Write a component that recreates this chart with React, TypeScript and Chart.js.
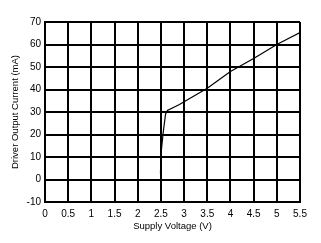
import React, { useEffect, useRef } from "react";
import { Chart, registerables } from "chart.js";

Chart.register(...registerables);

const supplyVoltage = [2.49, 2.51, 2.55, 2.6, 2.64, 2.9, 3.0, 3.5, 4.0, 4.5, 5.0, 5.5];
const outputCurrent = [2.7, 13, 21, 29, 30.7, 33.3, 34.6, 40.6, 48, 53.8, 60, 65.3];
const xTickValues = [0, 0.5, 1, 1.5, 2, 2.5, 3, 3.5, 4, 4.5, 5, 5.5];
const yTickValues = [-10, 0, 10, 20, 30, 40, 50, 60, 70];
const xTitle = "Supply Voltage (V)";
const yTitle = "Driver Output Current (mA)";

export default function App() {
  const ref = useRef<HTMLCanvasElement | null>(null);
  useEffect(() => {
    document.body.style.margin = "0";
    const canvas = ref.current;
    if (!canvas) return;
    const family = "'Liberation Sans', Arial, sans-serif";
    const font = { family, size: 10 };
    const titleFont = { family, size: 9.5 };
    const chart = new Chart(canvas, {
      type: "scatter",
      data: {
        datasets: [
          {
            data: supplyVoltage.map((x, i) => ({ x, y: outputCurrent[i] })),
            showLine: true,
            borderColor: "#000",
            borderWidth: 1.2,
            pointRadius: 0,
            tension: 0,
          },
        ],
      },
      options: {
        responsive: false,
        animation: false,
        events: [],
        layout: { padding: { left: 10, right: 21, top: 22, bottom: 11 } },
        plugins: { legend: { display: false }, tooltip: { enabled: false } },
        scales: {
          x: {
            type: "linear",
            min: 0,
            max: 5.5,
            afterBuildTicks: (s: any) => {
              s.ticks = xTickValues.map((v) => ({ value: v }));
            },
            afterFit: (s: any) => {
              s.height = 30;
            },
            grid: { color: "#000", lineWidth: 2, drawTicks: false },
            border: { color: "#000", width: 2 },
            ticks: { color: "#000", font, padding: 6, maxRotation: 0, autoSkip: false, callback: (v: any) => String(v) },
            title: { display: true, text: xTitle, color: "#000", font: titleFont, padding: { top: 0, bottom: 0 } },
          },
          y: {
            min: -10,
            max: 70,
            afterBuildTicks: (s: any) => {
              s.ticks = yTickValues.map((v) => ({ value: v }));
            },
            afterFit: (s: any) => {
              s.width = 35;
            },
            grid: { color: "#000", lineWidth: 2, drawTicks: false },
            border: { color: "#000", width: 2 },
            ticks: { color: "#000", font, padding: 4, autoSkip: false, callback: (v: any) => String(v) },
            title: { display: true, text: yTitle, color: "#000", font: titleFont, padding: { top: 0, bottom: 0 } },
          },
        },
      },
    });
    return () => chart.destroy();
  }, []);
  return (
    <div style={{ width: 321, height: 243, background: "#fff" }}>
      <canvas ref={ref} width={321} height={243} style={{ display: "block" }} />
    </div>
  );
}
